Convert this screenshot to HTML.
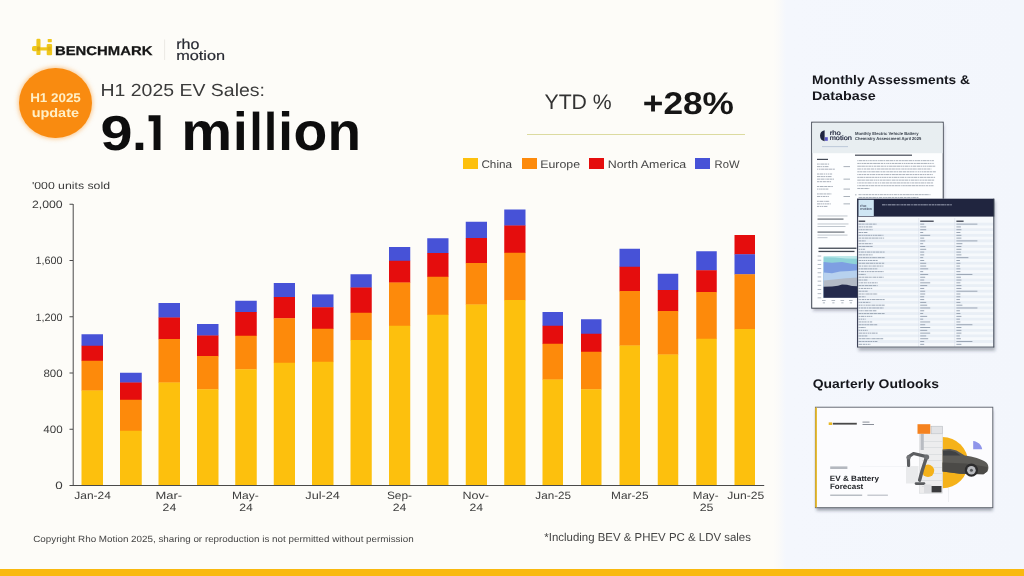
<!DOCTYPE html>
<html><head><meta charset="utf-8"><title>H1 2025 EV Sales</title>
<style>
html,body{margin:0;padding:0;}
body{width:1024px;height:576px;overflow:hidden;position:relative;background:#fdfcf8;
font-family:"Liberation Sans",sans-serif;}
.t{position:absolute;white-space:nowrap;line-height:1;transform-origin:0 0;display:block;}
.r{position:absolute;}
svg{position:absolute;left:0;top:0;}
</style></head><body>
<div class="r" style="left:0;top:0;width:1024px;height:576px;background:linear-gradient(90deg,#fdfcf8 0px,#fdfcf8 773px,#fafaf9 779px,#f4f7fd 786px,#f3f6fc 1024px);"></div>
<div class="r" style="left:0.00px;top:568.75px;width:1024.00px;height:7.25px;background:#f9b90f;"></div>
<svg width="1024" height="576" viewBox="0 0 1024 576" shape-rendering="geometricPrecision">
<rect x="81.50" y="334.25" width="21.50" height="11.80" fill="#4752d7"/>
<rect x="81.50" y="345.75" width="21.50" height="15.30" fill="#e50d0d"/>
<rect x="81.50" y="360.75" width="21.50" height="30.05" fill="#fd8a0b"/>
<rect x="81.50" y="390.50" width="21.50" height="95.00" fill="#fdc00d"/>
<rect x="120.00" y="372.75" width="21.75" height="10.05" fill="#4752d7"/>
<rect x="120.00" y="382.50" width="21.75" height="17.55" fill="#e50d0d"/>
<rect x="120.00" y="399.75" width="21.75" height="31.30" fill="#fd8a0b"/>
<rect x="120.00" y="430.75" width="21.75" height="54.75" fill="#fdc00d"/>
<rect x="158.50" y="303.00" width="21.50" height="14.80" fill="#4752d7"/>
<rect x="158.50" y="317.50" width="21.50" height="21.80" fill="#e50d0d"/>
<rect x="158.50" y="339.00" width="21.50" height="43.80" fill="#fd8a0b"/>
<rect x="158.50" y="382.50" width="21.50" height="103.00" fill="#fdc00d"/>
<rect x="197.00" y="324.00" width="21.50" height="11.80" fill="#4752d7"/>
<rect x="197.00" y="335.50" width="21.50" height="20.80" fill="#e50d0d"/>
<rect x="197.00" y="356.00" width="21.50" height="33.55" fill="#fd8a0b"/>
<rect x="197.00" y="389.25" width="21.50" height="96.25" fill="#fdc00d"/>
<rect x="235.25" y="300.75" width="21.50" height="11.55" fill="#4752d7"/>
<rect x="235.25" y="312.00" width="21.50" height="24.05" fill="#e50d0d"/>
<rect x="235.25" y="335.75" width="21.50" height="33.80" fill="#fd8a0b"/>
<rect x="235.25" y="369.25" width="21.50" height="116.25" fill="#fdc00d"/>
<rect x="273.75" y="283.00" width="21.25" height="14.30" fill="#4752d7"/>
<rect x="273.75" y="297.00" width="21.25" height="21.55" fill="#e50d0d"/>
<rect x="273.75" y="318.25" width="21.25" height="44.80" fill="#fd8a0b"/>
<rect x="273.75" y="362.75" width="21.25" height="122.75" fill="#fdc00d"/>
<rect x="312.00" y="294.40" width="21.50" height="13.15" fill="#4752d7"/>
<rect x="312.00" y="307.25" width="21.50" height="21.80" fill="#e50d0d"/>
<rect x="312.00" y="328.75" width="21.50" height="33.30" fill="#fd8a0b"/>
<rect x="312.00" y="361.75" width="21.50" height="123.75" fill="#fdc00d"/>
<rect x="350.50" y="274.25" width="21.25" height="13.55" fill="#4752d7"/>
<rect x="350.50" y="287.50" width="21.25" height="25.55" fill="#e50d0d"/>
<rect x="350.50" y="312.75" width="21.25" height="27.55" fill="#fd8a0b"/>
<rect x="350.50" y="340.00" width="21.25" height="145.50" fill="#fdc00d"/>
<rect x="389.00" y="247.00" width="21.25" height="14.05" fill="#4752d7"/>
<rect x="389.00" y="260.75" width="21.25" height="22.05" fill="#e50d0d"/>
<rect x="389.00" y="282.50" width="21.25" height="43.55" fill="#fd8a0b"/>
<rect x="389.00" y="325.75" width="21.25" height="159.75" fill="#fdc00d"/>
<rect x="427.25" y="238.25" width="21.25" height="15.05" fill="#4752d7"/>
<rect x="427.25" y="253.00" width="21.25" height="24.05" fill="#e50d0d"/>
<rect x="427.25" y="276.75" width="21.25" height="38.30" fill="#fd8a0b"/>
<rect x="427.25" y="314.75" width="21.25" height="170.75" fill="#fdc00d"/>
<rect x="465.75" y="221.75" width="21.25" height="16.55" fill="#4752d7"/>
<rect x="465.75" y="238.00" width="21.25" height="25.30" fill="#e50d0d"/>
<rect x="465.75" y="263.00" width="21.25" height="41.80" fill="#fd8a0b"/>
<rect x="465.75" y="304.50" width="21.25" height="181.00" fill="#fdc00d"/>
<rect x="504.25" y="209.50" width="21.25" height="16.30" fill="#4752d7"/>
<rect x="504.25" y="225.50" width="21.25" height="27.55" fill="#e50d0d"/>
<rect x="504.25" y="252.75" width="21.25" height="47.55" fill="#fd8a0b"/>
<rect x="504.25" y="300.00" width="21.25" height="185.50" fill="#fdc00d"/>
<rect x="542.50" y="312.00" width="20.50" height="14.05" fill="#4752d7"/>
<rect x="542.50" y="325.75" width="20.50" height="18.30" fill="#e50d0d"/>
<rect x="542.50" y="343.75" width="20.50" height="36.05" fill="#fd8a0b"/>
<rect x="542.50" y="379.50" width="20.50" height="106.00" fill="#fdc00d"/>
<rect x="581.00" y="319.25" width="20.50" height="14.80" fill="#4752d7"/>
<rect x="581.00" y="333.75" width="20.50" height="18.30" fill="#e50d0d"/>
<rect x="581.00" y="351.75" width="20.50" height="37.80" fill="#fd8a0b"/>
<rect x="581.00" y="389.25" width="20.50" height="96.25" fill="#fdc00d"/>
<rect x="619.50" y="248.75" width="20.50" height="18.30" fill="#4752d7"/>
<rect x="619.50" y="266.75" width="20.50" height="24.55" fill="#e50d0d"/>
<rect x="619.50" y="291.00" width="20.50" height="54.80" fill="#fd8a0b"/>
<rect x="619.50" y="345.50" width="20.50" height="140.00" fill="#fdc00d"/>
<rect x="657.75" y="273.75" width="20.50" height="16.55" fill="#4752d7"/>
<rect x="657.75" y="290.00" width="20.50" height="21.30" fill="#e50d0d"/>
<rect x="657.75" y="311.00" width="20.50" height="43.80" fill="#fd8a0b"/>
<rect x="657.75" y="354.50" width="20.50" height="131.00" fill="#fdc00d"/>
<rect x="696.25" y="251.25" width="20.50" height="19.30" fill="#4752d7"/>
<rect x="696.25" y="270.25" width="20.50" height="22.05" fill="#e50d0d"/>
<rect x="696.25" y="292.00" width="20.50" height="47.05" fill="#fd8a0b"/>
<rect x="696.25" y="338.75" width="20.50" height="146.75" fill="#fdc00d"/>
<rect x="734.50" y="235.00" width="20.50" height="19.55" fill="#e50d0d"/>
<rect x="734.50" y="254.25" width="20.50" height="20.30" fill="#4752d7"/>
<rect x="734.50" y="274.25" width="20.50" height="55.05" fill="#fd8a0b"/>
<rect x="734.50" y="329.00" width="20.50" height="156.50" fill="#fdc00d"/>
<rect x="72.7" y="204" width="1" height="282" fill="#4a4a4a"/>
<rect x="72.7" y="485" width="691.5" height="1" fill="#4a4a4a"/>
<rect x="69.5" y="203.75" width="3.5" height="1" fill="#4a4a4a"/>
<rect x="69.5" y="260.00" width="3.5" height="1" fill="#4a4a4a"/>
<rect x="69.5" y="316.25" width="3.5" height="1" fill="#4a4a4a"/>
<rect x="69.5" y="372.50" width="3.5" height="1" fill="#4a4a4a"/>
<rect x="69.5" y="428.75" width="3.5" height="1" fill="#4a4a4a"/>
<rect x="69.5" y="485.00" width="3.5" height="1" fill="#4a4a4a"/>
</svg>
<svg width="1024" height="576" viewBox="0 0 1024 576">
<g fill="#efc71c">
<rect x="36.4" y="38.7" width="4.1" height="16.4" rx="1.2"/>
<rect x="32.0" y="46.0" width="6.5" height="5.3" rx="1.8"/>
<rect x="40.0" y="47.3" width="7.2" height="3.2"/>
<rect x="47.7" y="39.0" width="4.1" height="3.2" rx="0.6"/>
<rect x="46.7" y="44.0" width="5.4" height="11.3" rx="1.1"/>
<rect x="36.9" y="46.6" width="3.2" height="4.2" rx="1.2" fill="#d9a913"/>
<rect x="47.4" y="46.8" width="3.6" height="4.0" rx="1.0" fill="#e3b417"/>
</g>
<rect x="164.1" y="39.5" width="1" height="20.5" fill="#ebe9e4"/>
</svg>
<div class="r" style="left:19px;top:68px;width:72.7px;height:70.4px;border-radius:50%;background:#f98b10;box-shadow:0 0 4px 1px rgba(250,150,40,0.5);"></div>
<div class="r" style="left:527.00px;top:134.00px;width:217.50px;height:1.00px;background:#dcdba0;"></div>
<div class="r" style="left:462.50px;top:158.25px;width:15.00px;height:11.00px;background:#fdc00d;"></div>
<div class="r" style="left:521.75px;top:158.25px;width:15.00px;height:11.00px;background:#fd8a0b;"></div>
<div class="r" style="left:589.00px;top:158.25px;width:15.00px;height:11.00px;background:#e50d0d;"></div>
<div class="r" style="left:695.25px;top:158.25px;width:15.00px;height:11.00px;background:#4752d7;"></div>
<svg width="1024" height="576" viewBox="0 0 1024 576">
<defs><filter id="sh" x="-10%" y="-10%" width="120%" height="125%"><feGaussianBlur stdDeviation="1.6"/></filter><filter id="bl"><feGaussianBlur stdDeviation="0.35"/></filter><clipPath id="c1"><rect x="812" y="122.4" width="131" height="185.6"/></clipPath><clipPath id="c3"><rect x="815.4" y="407.2" width="177.4" height="100.5"/></clipPath></defs>
<rect x="813.00" y="125.00" width="131.00" height="186.00" fill="rgba(40,50,70,0.30)" filter="url(#sh)"/>
<rect x="811.70" y="122.20" width="131.50" height="186.00" fill="#fdfeff" stroke="#3f4550" stroke-width="1"/>
<rect x="812.30" y="122.80" width="130.30" height="30.40" fill="#e8eef1" />
<path d="M824.6 130.2 A5.6 5.6 0 0 0 824.6 141.2 Z" fill="#1f2440"/>
<rect x="824.90" y="137.20" width="2.90" height="3.60" fill="#5a56c8" />
<g filter="url(#bl)">
<rect x="822.00" y="146.20" width="26.00" height="0.90" fill="#b7c6d6" />
<rect x="855.00" y="154.60" width="57.00" height="1.20" fill="#444b56" />
<rect x="817.00" y="158.80" width="11.00" height="1.20" fill="#444b56" />
<line x1="817.00" y1="164.07" x2="829.59" y2="164.07" stroke="#a5adb7" stroke-width="0.95" stroke-dasharray="1.8 0.5 1.2 0.4 3.6 0.4 2.4 0.6 1.2 0.6 1.8 0.4 1.2 0.5 3.0 0.4"/>
<line x1="817.00" y1="166.62" x2="828.93" y2="166.62" stroke="#a5adb7" stroke-width="0.95" stroke-dasharray="3.6 0.5 1.2 0.6 1.2 0.4 3.6 0.4 3.6 0.6 3.0 0.4"/>
<rect x="843.50" y="166.15" width="6.50" height="0.95" fill="#a5adb7" />
<line x1="817.00" y1="169.18" x2="834.81" y2="169.18" stroke="#a5adb7" stroke-width="0.95" stroke-dasharray="1.2 0.6 1.8 0.5 3.0 0.4 3.6 0.4 3.6 0.5 3.6 0.6 1.8 0.4 3.6 0.6"/>
<line x1="817.00" y1="174.03" x2="832.11" y2="174.03" stroke="#a5adb7" stroke-width="0.95" stroke-dasharray="2.4 0.4 3.6 0.6 1.2 0.6 1.2 0.6 1.8 0.5 3.6 0.5 2.4 0.5"/>
<line x1="817.00" y1="176.58" x2="831.68" y2="176.58" stroke="#a5adb7" stroke-width="0.95" stroke-dasharray="3.0 0.5 2.4 0.4 1.8 0.6 1.8 0.4 3.6 0.5 3.6 0.5"/>
<line x1="817.00" y1="179.13" x2="834.00" y2="179.13" stroke="#a5adb7" stroke-width="0.95" stroke-dasharray="3.0 0.5 3.6 0.4 1.2 0.6 3.0 0.4 2.4 0.4 3.0 0.5 1.2 0.6 1.2 0.6"/>
<rect x="843.50" y="178.65" width="6.50" height="0.95" fill="#a5adb7" />
<line x1="817.00" y1="181.68" x2="831.58" y2="181.68" stroke="#a5adb7" stroke-width="0.95" stroke-dasharray="2.4 0.5 2.4 0.6 3.0 0.6 3.0 0.4 1.2 0.5 3.0 0.6 1.2 0.4"/>
<line x1="817.00" y1="186.53" x2="832.85" y2="186.53" stroke="#a5adb7" stroke-width="0.95" stroke-dasharray="2.4 0.6 3.6 0.6 3.0 0.5 3.0 0.6 2.4 0.4 3.0 0.5"/>
<line x1="817.00" y1="189.08" x2="828.34" y2="189.08" stroke="#a5adb7" stroke-width="0.95" stroke-dasharray="1.2 0.5 1.2 0.4 2.4 0.4 1.8 0.5 3.0 0.5 1.2 0.4 3.0 0.5"/>
<rect x="843.50" y="188.60" width="6.50" height="0.95" fill="#a5adb7" />
<line x1="817.00" y1="193.93" x2="831.40" y2="193.93" stroke="#a5adb7" stroke-width="0.95" stroke-dasharray="1.8 0.5 3.6 0.5 3.0 0.5 3.0 0.4 1.8 0.4 1.8 0.4 1.8 0.6"/>
<line x1="817.00" y1="196.48" x2="828.87" y2="196.48" stroke="#a5adb7" stroke-width="0.95" stroke-dasharray="3.0 0.6 1.8 0.5 2.4 0.4 1.8 0.5 3.6 0.5 3.6 0.6"/>
<rect x="843.50" y="196.00" width="6.50" height="0.95" fill="#a5adb7" />
<line x1="817.00" y1="201.33" x2="829.55" y2="201.33" stroke="#a5adb7" stroke-width="0.95" stroke-dasharray="1.8 0.6 3.6 0.6 1.2 0.5 3.6 0.5 3.0 0.5 3.0 0.4"/>
<line x1="817.00" y1="203.88" x2="830.85" y2="203.88" stroke="#a5adb7" stroke-width="0.95" stroke-dasharray="3.0 0.4 1.8 0.4 1.8 0.5 1.8 0.4 2.4 0.6 1.2 0.4 1.2 0.6 1.8 0.6"/>
<rect x="843.50" y="203.40" width="6.50" height="0.95" fill="#a5adb7" />
<line x1="817.00" y1="206.43" x2="827.81" y2="206.43" stroke="#a5adb7" stroke-width="0.95" stroke-dasharray="2.4 0.6 1.2 0.4 1.8 0.6 3.0 0.4 2.4 0.5 3.6 0.5"/>
<rect x="817.50" y="215.50" width="30.00" height="0.95" fill="#bcc3cb" />
<rect x="817.50" y="218.60" width="26.00" height="0.95" fill="#444b56" />
<rect x="817.50" y="223.50" width="31.00" height="0.95" fill="#bcc3cb" />
<rect x="817.50" y="226.00" width="28.00" height="0.95" fill="#bcc3cb" />
<rect x="817.50" y="231.60" width="27.00" height="0.95" fill="#444b56" />
<rect x="817.50" y="234.60" width="30.00" height="0.95" fill="#bcc3cb" />
<rect x="817.50" y="237.20" width="10.00" height="0.95" fill="#bcc3cb" />
<rect x="818.50" y="247.60" width="38.00" height="1.30" fill="#444b56" />
<rect x="818.50" y="250.80" width="36.00" height="1.30" fill="#444b56" />
<line x1="857.30" y1="160.67" x2="933.93" y2="160.67" stroke="#a5adb7" stroke-width="0.95" stroke-dasharray="1.2 0.5 3.0 0.5 3.0 0.5 1.2 0.4 1.2 0.6 2.4 0.6 2.4 0.5 1.8 0.6 1.2 0.4 3.6 0.5 1.8 0.6 3.6 0.4 3.6 0.5 1.2 0.6 2.4 0.6 2.4 0.4 2.4 0.4 3.6 0.6 3.6 0.5 1.8 0.6 1.8 0.4 3.0 0.6 1.8 0.4 3.6 0.5 2.4 0.6 1.2 0.4 2.4 0.5 2.4 0.4 3.6 0.5"/>
<line x1="857.30" y1="163.45" x2="934.06" y2="163.45" stroke="#a5adb7" stroke-width="0.95" stroke-dasharray="2.4 0.5 1.2 0.4 1.2 0.4 3.0 0.4 2.4 0.4 3.0 0.6 3.6 0.4 3.0 0.6 2.4 0.6 1.2 0.6 1.2 0.5 1.8 0.5 1.8 0.5 2.4 0.4 3.0 0.5 3.0 0.6 1.2 0.6 1.8 0.4 1.8 0.4 1.8 0.6 3.0 0.6 1.8 0.6 3.6 0.5 2.4 0.4 3.6 0.6 1.8 0.4 1.2 0.6 1.2 0.6 1.8 0.5 1.8 0.4 1.2 0.5"/>
<line x1="857.30" y1="166.23" x2="935.24" y2="166.23" stroke="#a5adb7" stroke-width="0.95" stroke-dasharray="3.6 0.4 3.6 0.5 2.4 0.6 3.0 0.4 1.2 0.6 2.4 0.5 3.6 0.6 3.0 0.6 1.8 0.6 1.8 0.6 3.6 0.4 3.0 0.4 3.6 0.4 1.8 0.4 1.8 0.5 3.6 0.6 1.2 0.6 1.2 0.5 3.6 0.6 3.6 0.5 1.2 0.6 1.2 0.4 1.8 0.5 1.2 0.4 3.6 0.5 3.6 0.4 1.2 0.5 2.4 0.6"/>
<line x1="857.30" y1="169.01" x2="931.43" y2="169.01" stroke="#a5adb7" stroke-width="0.95" stroke-dasharray="3.6 0.6 1.8 0.6 2.4 0.5 3.6 0.6 3.0 0.6 1.8 0.6 3.6 0.5 3.6 0.4 3.0 0.4 3.0 0.4 3.0 0.5 2.4 0.4 1.8 0.5 1.2 0.4 2.4 0.4 1.8 0.6 2.4 0.4 2.4 0.4 3.0 0.4 1.2 0.5 3.0 0.4 1.8 0.4 3.0 0.6 3.0 0.5 3.0 0.4 2.4 0.5"/>
<line x1="857.30" y1="171.79" x2="935.84" y2="171.79" stroke="#a5adb7" stroke-width="0.95" stroke-dasharray="2.4 0.4 2.4 0.6 3.0 0.5 1.2 0.5 2.4 0.6 3.6 0.5 3.6 0.4 1.2 0.4 1.2 0.4 2.4 0.5 1.2 0.4 2.4 0.4 3.0 0.6 2.4 0.5 1.8 0.6 3.6 0.6 3.0 0.6 2.4 0.4 2.4 0.4 1.8 0.5 1.2 0.5 1.2 0.6 1.2 0.5 1.2 0.6 1.8 0.4 2.4 0.4 3.0 0.4 2.4 0.6 3.0 0.5 3.6 0.4 1.2 0.6"/>
<line x1="857.30" y1="174.57" x2="932.75" y2="174.57" stroke="#a5adb7" stroke-width="0.95" stroke-dasharray="1.2 0.4 2.4 0.4 1.8 0.4 2.4 0.6 2.4 0.6 1.8 0.5 3.0 0.6 1.8 0.5 2.4 0.4 2.4 0.4 1.2 0.4 3.6 0.6 1.8 0.6 3.0 0.4 3.0 0.4 3.0 0.6 3.0 0.6 3.0 0.6 2.4 0.6 1.8 0.4 2.4 0.4 1.8 0.5 2.4 0.4 1.8 0.4 1.2 0.6 2.4 0.5 1.8 0.4 1.2 0.6 3.0 0.6 2.4 0.6"/>
<line x1="857.30" y1="177.35" x2="935.09" y2="177.35" stroke="#a5adb7" stroke-width="0.95" stroke-dasharray="2.4 0.4 3.0 0.4 1.8 0.5 3.0 0.4 2.4 0.5 2.4 0.6 2.4 0.4 1.2 0.5 1.8 0.5 1.8 0.4 2.4 0.5 1.2 0.5 2.4 0.6 1.8 0.4 3.6 0.4 1.2 0.5 1.2 0.4 3.0 0.6 1.2 0.5 1.2 0.5 2.4 0.6 1.8 0.4 3.6 0.6 1.8 0.6 3.6 0.5 2.4 0.6 3.0 0.4 2.4 0.6 3.6 0.6 1.8 0.4 3.6 0.6"/>
<line x1="857.30" y1="180.13" x2="934.15" y2="180.13" stroke="#a5adb7" stroke-width="0.95" stroke-dasharray="3.6 0.4 3.6 0.6 3.6 0.4 3.6 0.6 1.8 0.4 1.2 0.4 1.8 0.6 2.4 0.4 3.0 0.5 3.6 0.4 1.2 0.6 3.6 0.6 1.8 0.5 2.4 0.4 3.0 0.4 3.6 0.6 1.2 0.6 3.6 0.4 3.0 0.5 1.2 0.5 1.8 0.6 1.8 0.4 3.0 0.5 3.0 0.4 3.0 0.6 2.4 0.4 3.6 0.6"/>
<line x1="857.30" y1="182.91" x2="933.09" y2="182.91" stroke="#a5adb7" stroke-width="0.95" stroke-dasharray="1.2 0.6 1.8 0.5 2.4 0.6 2.4 0.6 3.6 0.4 1.2 0.5 1.2 0.5 2.4 0.6 1.2 0.6 1.8 0.6 3.0 0.5 3.6 0.5 3.0 0.5 3.0 0.4 3.6 0.4 2.4 0.4 3.0 0.4 2.4 0.5 1.2 0.6 3.0 0.5 3.0 0.4 1.8 0.4 3.6 0.4 1.8 0.6 3.6 0.5 2.4 0.4 3.6 0.6"/>
<line x1="857.30" y1="185.69" x2="933.76" y2="185.69" stroke="#a5adb7" stroke-width="0.95" stroke-dasharray="1.2 0.6 2.4 0.4 3.0 0.5 3.0 0.4 1.8 0.4 3.0 0.6 3.0 0.5 2.4 0.6 1.8 0.5 2.4 0.5 2.4 0.4 2.4 0.4 2.4 0.5 3.0 0.4 1.8 0.6 1.2 0.6 2.4 0.5 2.4 0.4 3.0 0.5 3.6 0.4 2.4 0.5 2.4 0.4 2.4 0.4 1.2 0.6 2.4 0.6 1.8 0.4 2.4 0.5 3.6 0.5 1.8 0.5"/>
<line x1="857.30" y1="188.47" x2="869.37" y2="188.47" stroke="#a5adb7" stroke-width="0.95" stroke-dasharray="3.0 0.4 3.0 0.6 3.6 0.4 1.2 0.4 3.0 0.5 3.6 0.4"/>
<rect x="855.20" y="194.20" width="1.20" height="1.20" fill="#a5adb7" />
<line x1="858.50" y1="194.67" x2="930.50" y2="194.67" stroke="#a5adb7" stroke-width="0.95" stroke-dasharray="2.4 0.5 1.2 0.6 1.8 0.4 3.0 0.5 2.4 0.5 2.4 0.5 2.4 0.5 1.8 0.5 3.0 0.6 3.0 0.4 1.8 0.6 1.8 0.4 1.8 0.6 3.0 0.6 1.8 0.5 2.4 0.5 3.0 0.4 3.6 0.4 1.8 0.4 1.8 0.5 3.6 0.4 2.4 0.4 2.4 0.5 3.6 0.4 1.2 0.6 3.0 0.5 3.0 0.6"/>
<line x1="858.50" y1="197.47" x2="918.50" y2="197.47" stroke="#a5adb7" stroke-width="0.95" stroke-dasharray="3.6 0.4 3.0 0.5 2.4 0.4 3.0 0.5 3.6 0.5 1.8 0.6 3.6 0.6 1.8 0.4 2.4 0.4 3.0 0.5 3.0 0.5 2.4 0.4 1.8 0.4 3.0 0.6 3.0 0.6 3.0 0.4 1.2 0.5 3.6 0.5 3.0 0.4 1.2 0.4 1.8 0.4"/>
</g>
<rect x="823.60" y="256.00" width="34.40" height="41.80" fill="#bfe9ea" />
<path d="M823.6 257.2 L835 257.6 L846 258.4 L858 258.8 L858 297.8 L823.6 297.8Z" fill="#8fd3d8"/>
<path d="M823.6 262.0 L832 262.8 L842 262.0 L850 263.4 L858 264.4 L858 297.8 L823.6 297.8Z" fill="#7e9fe2"/>
<path d="M823.6 272.6 L832 273.2 L840 271.6 L850 271.0 L858 270.2 L858 297.8 L823.6 297.8Z" fill="#b7d1ee"/>
<path d="M823.6 280.4 L834 279.6 L846 278.2 L858 277.4 L858 297.8 L823.6 297.8Z" fill="#b3bac6"/>
<path d="M823.6 286.8 L832 286.6 L838 285.8 L842 284.6 L847 284.8 L852 286.0 L858 286.2 L858 297.8 L823.6 297.8Z" fill="#242a4c"/>
<g filter="url(#bl)">
<rect x="817.60" y="255.60" width="3.60" height="0.90" fill="#aab2bc" />
<rect x="817.60" y="259.78" width="3.60" height="0.90" fill="#aab2bc" />
<rect x="817.60" y="263.96" width="3.60" height="0.90" fill="#aab2bc" />
<rect x="817.60" y="268.14" width="3.60" height="0.90" fill="#aab2bc" />
<rect x="817.60" y="272.32" width="3.60" height="0.90" fill="#aab2bc" />
<rect x="817.60" y="276.50" width="3.60" height="0.90" fill="#aab2bc" />
<rect x="817.60" y="280.68" width="3.60" height="0.90" fill="#aab2bc" />
<rect x="817.60" y="284.86" width="3.60" height="0.90" fill="#aab2bc" />
<rect x="817.60" y="289.04" width="3.60" height="0.90" fill="#aab2bc" />
<rect x="817.60" y="293.22" width="3.60" height="0.90" fill="#aab2bc" />
<rect x="817.60" y="297.40" width="3.60" height="0.90" fill="#aab2bc" />
<rect x="822.00" y="300.00" width="3.60" height="0.90" fill="#aab2bc" />
<rect x="822.80" y="302.40" width="2.20" height="0.90" fill="#aab2bc" />
<rect x="831.50" y="300.00" width="3.60" height="0.90" fill="#aab2bc" />
<rect x="832.30" y="302.40" width="2.20" height="0.90" fill="#aab2bc" />
<rect x="840.50" y="300.00" width="3.60" height="0.90" fill="#aab2bc" />
<rect x="841.30" y="302.40" width="2.20" height="0.90" fill="#aab2bc" />
<rect x="849.00" y="300.00" width="3.60" height="0.90" fill="#aab2bc" />
<rect x="849.80" y="302.40" width="2.20" height="0.90" fill="#aab2bc" />
</g>
<rect x="858.40" y="201.20" width="136.80" height="149.70" fill="rgba(40,50,70,0.33)" filter="url(#sh)"/>
<rect x="857.40" y="198.70" width="136.80" height="148.70" fill="#f6f9fc" />
<rect x="857.40" y="198.70" width="136.80" height="17.90" fill="#20253f" />
<rect x="858.40" y="199.80" width="15.40" height="16.20" fill="#cfe6f4" />
<line x1="882.00" y1="204.83" x2="952.00" y2="204.83" stroke="#b4b9cb" stroke-width="0.85" stroke-dasharray="3.6 0.6 1.2 0.6 3.0 0.4 3.6 0.4 1.2 0.4 1.8 0.6 1.2 0.6 2.4 0.4 2.4 0.6 3.0 0.6 1.2 0.4 1.2 0.5 3.6 0.6 1.8 0.5 2.4 0.4 3.6 0.4 1.2 0.6 2.4 0.5 2.4 0.5 1.8 0.5 3.6 0.4 3.6 0.4 1.2 0.5 2.4 0.4 1.2 0.4 3.0 0.6 3.0 0.4"/>
<g filter="url(#bl)">
<rect x="858.00" y="222.70" width="135.40" height="2.79" fill="#e9eff6" />
<rect x="858.00" y="228.29" width="135.40" height="2.79" fill="#e9eff6" />
<rect x="858.00" y="233.88" width="135.40" height="2.79" fill="#e9eff6" />
<rect x="858.00" y="239.47" width="135.40" height="2.79" fill="#e9eff6" />
<rect x="858.00" y="245.06" width="135.40" height="2.79" fill="#e9eff6" />
<rect x="858.00" y="250.65" width="135.40" height="2.79" fill="#e9eff6" />
<rect x="858.00" y="256.24" width="135.40" height="2.79" fill="#e9eff6" />
<rect x="858.00" y="261.83" width="135.40" height="2.79" fill="#e9eff6" />
<rect x="858.00" y="267.42" width="135.40" height="2.79" fill="#e9eff6" />
<rect x="858.00" y="273.01" width="135.40" height="2.79" fill="#e9eff6" />
<rect x="858.00" y="278.60" width="135.40" height="2.79" fill="#e9eff6" />
<rect x="858.00" y="284.19" width="135.40" height="2.79" fill="#e9eff6" />
<rect x="858.00" y="289.78" width="135.40" height="2.79" fill="#e9eff6" />
<rect x="858.00" y="295.37" width="135.40" height="2.79" fill="#e9eff6" />
<rect x="858.00" y="300.96" width="135.40" height="2.79" fill="#e9eff6" />
<rect x="858.00" y="306.55" width="135.40" height="2.79" fill="#e9eff6" />
<rect x="858.00" y="312.14" width="135.40" height="2.79" fill="#e9eff6" />
<rect x="858.00" y="317.73" width="135.40" height="2.79" fill="#e9eff6" />
<rect x="858.00" y="323.32" width="135.40" height="2.79" fill="#e9eff6" />
<rect x="858.00" y="328.91" width="135.40" height="2.79" fill="#e9eff6" />
<rect x="858.00" y="334.50" width="135.40" height="2.79" fill="#e9eff6" />
<rect x="858.00" y="340.09" width="135.40" height="2.79" fill="#e9eff6" />
<rect x="858.60" y="220.60" width="6.60" height="1.20" fill="#2f3644" />
<rect x="920.20" y="220.60" width="13.50" height="1.20" fill="#2f3644" />
<rect x="956.40" y="220.60" width="7.20" height="1.20" fill="#2f3644" />
<line x1="858.60" y1="224.12" x2="876.60" y2="224.12" stroke="#97a2b1" stroke-width="0.95" stroke-dasharray="3.0 0.5 1.8 0.5 1.2 0.6 2.4 0.6 3.0 0.5 3.0 0.4 1.2 0.5 3.6 0.4"/>
<rect x="920.20" y="223.65" width="4.00" height="0.95" fill="#97a2b1" />
<rect x="956.40" y="223.65" width="21.00" height="0.95" fill="#97a2b1" />
<line x1="858.60" y1="226.92" x2="872.60" y2="226.92" stroke="#97a2b1" stroke-width="0.95" stroke-dasharray="2.4 0.4 1.8 0.5 1.8 0.5 2.4 0.4 3.6 0.5 3.6 0.4"/>
<rect x="920.20" y="226.44" width="6.00" height="0.95" fill="#97a2b1" />
<rect x="956.40" y="226.44" width="4.50" height="0.95" fill="#97a2b1" />
<line x1="858.60" y1="229.72" x2="872.60" y2="229.72" stroke="#97a2b1" stroke-width="0.95" stroke-dasharray="1.2 0.6 1.8 0.5 1.2 0.4 1.2 0.6 1.8 0.5 1.2 0.6 1.2 0.4 3.0 0.5 2.4 0.6"/>
<rect x="920.20" y="229.24" width="6.00" height="0.95" fill="#97a2b1" />
<rect x="956.40" y="229.24" width="5.00" height="0.95" fill="#97a2b1" />
<line x1="858.60" y1="232.51" x2="867.60" y2="232.51" stroke="#97a2b1" stroke-width="0.95" stroke-dasharray="2.4 0.4 1.8 0.6 3.6 0.6 3.0 0.4 2.4 0.6"/>
<rect x="920.20" y="232.03" width="3.00" height="0.95" fill="#97a2b1" />
<rect x="956.40" y="232.03" width="4.00" height="0.95" fill="#97a2b1" />
<line x1="858.60" y1="235.31" x2="883.60" y2="235.31" stroke="#97a2b1" stroke-width="0.95" stroke-dasharray="2.4 0.5 1.8 0.4 1.2 0.4 2.4 0.4 2.4 0.5 1.2 0.6 1.8 0.5 2.4 0.5 3.0 0.4 1.2 0.6 3.0 0.4 2.4 0.6"/>
<rect x="920.20" y="234.83" width="10.00" height="0.95" fill="#97a2b1" />
<rect x="956.40" y="234.83" width="5.00" height="0.95" fill="#97a2b1" />
<line x1="858.60" y1="238.10" x2="884.60" y2="238.10" stroke="#97a2b1" stroke-width="0.95" stroke-dasharray="2.4 0.6 3.0 0.4 3.0 0.4 3.0 0.4 3.0 0.4 3.0 0.4 1.2 0.5 1.8 0.6 1.2 0.6 2.4 0.5 2.4 0.5"/>
<rect x="920.20" y="237.62" width="4.00" height="0.95" fill="#97a2b1" />
<rect x="956.40" y="237.62" width="5.00" height="0.95" fill="#97a2b1" />
<line x1="858.60" y1="240.90" x2="865.60" y2="240.90" stroke="#97a2b1" stroke-width="0.95" stroke-dasharray="2.4 0.5 2.4 0.4 3.6 0.6 1.2 0.4"/>
<rect x="920.20" y="240.42" width="5.00" height="0.95" fill="#97a2b1" />
<rect x="956.40" y="240.42" width="21.00" height="0.95" fill="#97a2b1" />
<line x1="858.60" y1="243.69" x2="872.60" y2="243.69" stroke="#97a2b1" stroke-width="0.95" stroke-dasharray="3.0 0.5 2.4 0.5 3.0 0.4 3.0 0.4 1.2 0.6 2.4 0.6 1.8 0.6"/>
<rect x="920.20" y="243.22" width="3.00" height="0.95" fill="#97a2b1" />
<rect x="956.40" y="243.22" width="6.00" height="0.95" fill="#97a2b1" />
<line x1="858.60" y1="246.48" x2="872.60" y2="246.48" stroke="#97a2b1" stroke-width="0.95" stroke-dasharray="3.0 0.5 3.6 0.4 3.6 0.4 3.0 0.4 1.8 0.5 1.2 0.6"/>
<rect x="920.20" y="246.01" width="5.00" height="0.95" fill="#97a2b1" />
<rect x="956.40" y="246.01" width="5.00" height="0.95" fill="#97a2b1" />
<line x1="858.60" y1="249.28" x2="865.60" y2="249.28" stroke="#97a2b1" stroke-width="0.95" stroke-dasharray="1.8 0.5 1.2 0.4 2.4 0.6 1.2 0.4 1.2 0.5 3.0 0.6"/>
<rect x="920.20" y="248.81" width="6.00" height="0.95" fill="#97a2b1" />
<rect x="956.40" y="248.81" width="5.00" height="0.95" fill="#97a2b1" />
<line x1="858.60" y1="252.07" x2="884.60" y2="252.07" stroke="#97a2b1" stroke-width="0.95" stroke-dasharray="1.8 0.5 3.0 0.6 1.8 0.6 3.6 0.6 1.2 0.5 2.4 0.5 3.6 0.5 2.4 0.5 2.4 0.4 3.0 0.4 1.8 0.4"/>
<rect x="920.20" y="251.60" width="4.00" height="0.95" fill="#97a2b1" />
<rect x="956.40" y="251.60" width="4.50" height="0.95" fill="#97a2b1" />
<line x1="858.60" y1="254.87" x2="872.60" y2="254.87" stroke="#97a2b1" stroke-width="0.95" stroke-dasharray="3.6 0.4 2.4 0.4 3.0 0.5 1.8 0.6 3.6 0.4 1.2 0.6"/>
<rect x="920.20" y="254.40" width="4.00" height="0.95" fill="#97a2b1" />
<rect x="956.40" y="254.40" width="5.00" height="0.95" fill="#97a2b1" />
<line x1="858.60" y1="257.67" x2="884.60" y2="257.67" stroke="#97a2b1" stroke-width="0.95" stroke-dasharray="1.2 0.5 1.8 0.5 2.4 0.4 2.4 0.4 1.2 0.4 1.8 0.6 3.6 0.4 1.2 0.5 3.6 0.4 3.0 0.6 2.4 0.6 1.2 0.4"/>
<rect x="920.20" y="257.19" width="3.00" height="0.95" fill="#97a2b1" />
<rect x="956.40" y="257.19" width="12.00" height="0.95" fill="#97a2b1" />
<line x1="858.60" y1="260.46" x2="877.60" y2="260.46" stroke="#97a2b1" stroke-width="0.95" stroke-dasharray="2.4 0.5 1.8 0.4 1.8 0.5 1.2 0.6 1.8 0.4 2.4 0.5 2.4 0.4 3.6 0.5 1.2 0.4 1.2 0.5"/>
<rect x="920.20" y="259.99" width="4.00" height="0.95" fill="#97a2b1" />
<rect x="956.40" y="259.99" width="3.50" height="0.95" fill="#97a2b1" />
<line x1="858.60" y1="263.25" x2="884.60" y2="263.25" stroke="#97a2b1" stroke-width="0.95" stroke-dasharray="3.0 0.4 3.0 0.6 3.6 0.4 3.6 0.4 1.8 0.5 2.4 0.5 2.4 0.6 2.4 0.5 1.2 0.5 3.6 0.5"/>
<rect x="920.20" y="262.78" width="6.00" height="0.95" fill="#97a2b1" />
<rect x="956.40" y="262.78" width="4.00" height="0.95" fill="#97a2b1" />
<line x1="858.60" y1="266.05" x2="883.60" y2="266.05" stroke="#97a2b1" stroke-width="0.95" stroke-dasharray="2.4 0.6 1.8 0.5 3.0 0.4 1.2 0.5 1.8 0.5 1.2 0.4 3.0 0.6 2.4 0.5 1.8 0.4 1.2 0.4 3.6 0.4 3.0 0.4"/>
<rect x="920.20" y="265.57" width="6.00" height="0.95" fill="#97a2b1" />
<rect x="956.40" y="265.57" width="3.50" height="0.95" fill="#97a2b1" />
<line x1="858.60" y1="268.85" x2="877.60" y2="268.85" stroke="#97a2b1" stroke-width="0.95" stroke-dasharray="1.8 0.5 2.4 0.4 3.6 0.4 1.2 0.4 3.0 0.5 1.8 0.5 1.8 0.4 3.0 0.5 1.2 0.6"/>
<rect x="920.20" y="268.37" width="8.00" height="0.95" fill="#97a2b1" />
<rect x="956.40" y="268.37" width="4.00" height="0.95" fill="#97a2b1" />
<line x1="858.60" y1="271.64" x2="883.60" y2="271.64" stroke="#97a2b1" stroke-width="0.95" stroke-dasharray="1.8 0.6 3.0 0.6 1.8 0.5 1.8 0.6 1.8 0.4 3.0 0.6 1.8 0.5 2.4 0.4 1.8 0.4 1.8 0.4 3.6 0.6"/>
<rect x="920.20" y="271.17" width="3.00" height="0.95" fill="#97a2b1" />
<rect x="956.40" y="271.17" width="4.00" height="0.95" fill="#97a2b1" />
<line x1="858.60" y1="274.44" x2="865.60" y2="274.44" stroke="#97a2b1" stroke-width="0.95" stroke-dasharray="1.2 0.5 3.6 0.5 3.6 0.6 2.4 0.6"/>
<rect x="920.20" y="273.96" width="8.00" height="0.95" fill="#97a2b1" />
<rect x="956.40" y="273.96" width="16.00" height="0.95" fill="#97a2b1" />
<line x1="858.60" y1="277.23" x2="883.60" y2="277.23" stroke="#97a2b1" stroke-width="0.95" stroke-dasharray="3.0 0.5 2.4 0.5 3.6 0.5 1.8 0.4 1.2 0.6 3.0 0.5 1.8 0.5 3.6 0.5 1.8 0.5 3.0 0.4"/>
<rect x="920.20" y="276.75" width="5.00" height="0.95" fill="#97a2b1" />
<rect x="956.40" y="276.75" width="4.50" height="0.95" fill="#97a2b1" />
<line x1="858.60" y1="280.03" x2="867.60" y2="280.03" stroke="#97a2b1" stroke-width="0.95" stroke-dasharray="3.0 0.5 1.2 0.5 3.6 0.6 1.2 0.4 1.8 0.4"/>
<rect x="920.20" y="279.55" width="4.00" height="0.95" fill="#97a2b1" />
<rect x="956.40" y="279.55" width="5.00" height="0.95" fill="#97a2b1" />
<line x1="858.60" y1="282.82" x2="877.60" y2="282.82" stroke="#97a2b1" stroke-width="0.95" stroke-dasharray="1.2 0.6 3.0 0.6 1.8 0.4 1.2 0.6 1.2 0.4 1.8 0.5 2.4 0.4 1.8 0.4 2.4 0.6 2.4 0.4"/>
<rect x="920.20" y="282.35" width="10.00" height="0.95" fill="#97a2b1" />
<rect x="956.40" y="282.35" width="4.00" height="0.95" fill="#97a2b1" />
<line x1="858.60" y1="285.62" x2="877.60" y2="285.62" stroke="#97a2b1" stroke-width="0.95" stroke-dasharray="3.0 0.4 2.4 0.6 3.0 0.4 3.6 0.5 3.6 0.6 1.8 0.5 2.4 0.4"/>
<rect x="920.20" y="285.14" width="7.00" height="0.95" fill="#97a2b1" />
<rect x="956.40" y="285.14" width="5.00" height="0.95" fill="#97a2b1" />
<line x1="858.60" y1="288.41" x2="872.60" y2="288.41" stroke="#97a2b1" stroke-width="0.95" stroke-dasharray="1.8 0.6 2.4 0.6 2.4 0.5 1.8 0.5 1.2 0.6 1.2 0.6 2.4 0.5 3.6 0.6"/>
<rect x="920.20" y="287.94" width="4.00" height="0.95" fill="#97a2b1" />
<rect x="956.40" y="287.94" width="5.00" height="0.95" fill="#97a2b1" />
<line x1="858.60" y1="291.21" x2="867.60" y2="291.21" stroke="#97a2b1" stroke-width="0.95" stroke-dasharray="3.0 0.6 2.4 0.5 3.0 0.5 3.6 0.4"/>
<rect x="920.20" y="290.73" width="5.00" height="0.95" fill="#97a2b1" />
<rect x="956.40" y="290.73" width="21.00" height="0.95" fill="#97a2b1" />
<line x1="858.60" y1="294.00" x2="877.60" y2="294.00" stroke="#97a2b1" stroke-width="0.95" stroke-dasharray="3.0 0.4 1.8 0.6 1.2 0.5 3.6 0.5 2.4 0.6 3.6 0.6 2.4 0.6 1.2 0.6"/>
<rect x="920.20" y="293.52" width="5.00" height="0.95" fill="#97a2b1" />
<rect x="956.40" y="293.52" width="4.00" height="0.95" fill="#97a2b1" />
<line x1="858.60" y1="296.80" x2="865.60" y2="296.80" stroke="#97a2b1" stroke-width="0.95" stroke-dasharray="2.4 0.6 3.0 0.5 3.6 0.5 1.2 0.4"/>
<rect x="920.20" y="296.32" width="4.00" height="0.95" fill="#97a2b1" />
<rect x="956.40" y="296.32" width="4.00" height="0.95" fill="#97a2b1" />
<line x1="858.60" y1="299.59" x2="884.60" y2="299.59" stroke="#97a2b1" stroke-width="0.95" stroke-dasharray="1.2 0.4 1.2 0.6 2.4 0.5 1.2 0.6 2.4 0.6 1.8 0.5 3.6 0.5 3.6 0.4 1.8 0.5 3.6 0.5 1.8 0.4 1.2 0.4"/>
<rect x="920.20" y="299.12" width="4.00" height="0.95" fill="#97a2b1" />
<rect x="956.40" y="299.12" width="3.50" height="0.95" fill="#97a2b1" />
<line x1="858.60" y1="302.38" x2="870.60" y2="302.38" stroke="#97a2b1" stroke-width="0.95" stroke-dasharray="1.2 0.6 1.8 0.6 2.4 0.5 2.4 0.4 1.2 0.6 3.6 0.5 3.6 0.6"/>
<rect x="920.20" y="301.91" width="6.00" height="0.95" fill="#97a2b1" />
<rect x="956.40" y="301.91" width="4.00" height="0.95" fill="#97a2b1" />
<line x1="858.60" y1="305.18" x2="884.60" y2="305.18" stroke="#97a2b1" stroke-width="0.95" stroke-dasharray="1.8 0.4 1.2 0.4 1.2 0.6 1.2 0.5 1.8 0.4 1.8 0.4 1.2 0.4 3.6 0.6 1.8 0.4 3.0 0.4 3.6 0.6 3.6 0.6"/>
<rect x="920.20" y="304.70" width="7.00" height="0.95" fill="#97a2b1" />
<rect x="956.40" y="304.70" width="6.00" height="0.95" fill="#97a2b1" />
<line x1="858.60" y1="307.98" x2="883.60" y2="307.98" stroke="#97a2b1" stroke-width="0.95" stroke-dasharray="1.8 0.6 2.4 0.4 2.4 0.6 1.2 0.6 3.0 0.6 3.6 0.4 3.0 0.5 3.0 0.4 3.0 0.4 1.8 0.4"/>
<rect x="920.20" y="307.50" width="10.00" height="0.95" fill="#97a2b1" />
<rect x="956.40" y="307.50" width="21.00" height="0.95" fill="#97a2b1" />
<line x1="858.60" y1="310.77" x2="876.60" y2="310.77" stroke="#97a2b1" stroke-width="0.95" stroke-dasharray="1.2 0.5 2.4 0.6 1.2 0.5 3.6 0.6 3.0 0.6 3.6 0.5 2.4 0.6 1.8 0.4"/>
<rect x="920.20" y="310.30" width="4.00" height="0.95" fill="#97a2b1" />
<rect x="956.40" y="310.30" width="3.50" height="0.95" fill="#97a2b1" />
<line x1="858.60" y1="313.57" x2="884.60" y2="313.57" stroke="#97a2b1" stroke-width="0.95" stroke-dasharray="2.4 0.4 1.8 0.4 2.4 0.4 3.0 0.5 3.6 0.4 3.0 0.6 3.6 0.5 3.0 0.6 1.2 0.4 3.0 0.6"/>
<rect x="920.20" y="313.09" width="3.00" height="0.95" fill="#97a2b1" />
<rect x="956.40" y="313.09" width="4.00" height="0.95" fill="#97a2b1" />
<line x1="858.60" y1="316.36" x2="872.60" y2="316.36" stroke="#97a2b1" stroke-width="0.95" stroke-dasharray="1.8 0.5 3.6 0.6 1.2 0.6 1.8 0.4 1.2 0.4 1.2 0.4 3.6 0.4 2.4 0.4"/>
<rect x="920.20" y="315.88" width="7.00" height="0.95" fill="#97a2b1" />
<rect x="956.40" y="315.88" width="5.00" height="0.95" fill="#97a2b1" />
<line x1="858.60" y1="319.16" x2="865.60" y2="319.16" stroke="#97a2b1" stroke-width="0.95" stroke-dasharray="1.8 0.6 1.2 0.6 1.2 0.6 1.2 0.4 3.6 0.5"/>
<rect x="920.20" y="318.68" width="3.00" height="0.95" fill="#97a2b1" />
<rect x="956.40" y="318.68" width="3.50" height="0.95" fill="#97a2b1" />
<line x1="858.60" y1="321.95" x2="872.60" y2="321.95" stroke="#97a2b1" stroke-width="0.95" stroke-dasharray="3.0 0.4 1.8 0.4 1.8 0.4 1.2 0.4 1.2 0.6 2.4 0.5 1.2 0.4 1.2 0.6 1.8 0.5"/>
<rect x="920.20" y="321.48" width="10.00" height="0.95" fill="#97a2b1" />
<rect x="956.40" y="321.48" width="4.00" height="0.95" fill="#97a2b1" />
<line x1="858.60" y1="324.75" x2="877.60" y2="324.75" stroke="#97a2b1" stroke-width="0.95" stroke-dasharray="2.4 0.4 2.4 0.5 2.4 0.4 2.4 0.5 3.6 0.6 3.0 0.5 3.6 0.6"/>
<rect x="920.20" y="324.27" width="5.00" height="0.95" fill="#97a2b1" />
<rect x="956.40" y="324.27" width="16.00" height="0.95" fill="#97a2b1" />
<line x1="858.60" y1="327.54" x2="865.60" y2="327.54" stroke="#97a2b1" stroke-width="0.95" stroke-dasharray="1.2 0.5 3.6 0.4 2.4 0.5 1.2 0.6 3.6 0.4"/>
<rect x="920.20" y="327.06" width="10.00" height="0.95" fill="#97a2b1" />
<rect x="956.40" y="327.06" width="5.00" height="0.95" fill="#97a2b1" />
<line x1="858.60" y1="330.34" x2="867.60" y2="330.34" stroke="#97a2b1" stroke-width="0.95" stroke-dasharray="1.8 0.5 1.2 0.6 1.8 0.5 1.2 0.4 2.4 0.5 1.2 0.5 1.8 0.5"/>
<rect x="920.20" y="329.86" width="7.00" height="0.95" fill="#97a2b1" />
<rect x="956.40" y="329.86" width="5.00" height="0.95" fill="#97a2b1" />
<line x1="858.60" y1="333.13" x2="877.60" y2="333.13" stroke="#97a2b1" stroke-width="0.95" stroke-dasharray="3.6 0.4 2.4 0.4 1.8 0.5 1.8 0.4 1.2 0.5 3.6 0.4 2.4 0.5 1.2 0.5 3.0 0.6"/>
<rect x="920.20" y="332.65" width="10.00" height="0.95" fill="#97a2b1" />
<rect x="956.40" y="332.65" width="5.00" height="0.95" fill="#97a2b1" />
<line x1="858.60" y1="335.93" x2="867.60" y2="335.93" stroke="#97a2b1" stroke-width="0.95" stroke-dasharray="2.4 0.4 2.4 0.5 3.0 0.6 3.6 0.4"/>
<rect x="920.20" y="335.45" width="6.00" height="0.95" fill="#97a2b1" />
<rect x="956.40" y="335.45" width="3.50" height="0.95" fill="#97a2b1" />
<line x1="858.60" y1="338.72" x2="883.60" y2="338.72" stroke="#97a2b1" stroke-width="0.95" stroke-dasharray="3.0 0.4 3.6 0.6 3.6 0.6 1.2 0.5 3.6 0.5 3.6 0.4 3.0 0.6 3.6 0.6"/>
<rect x="920.20" y="338.25" width="8.00" height="0.95" fill="#97a2b1" />
<rect x="956.40" y="338.25" width="4.50" height="0.95" fill="#97a2b1" />
<line x1="858.60" y1="341.52" x2="877.60" y2="341.52" stroke="#97a2b1" stroke-width="0.95" stroke-dasharray="3.0 0.6 2.4 0.6 1.8 0.4 2.4 0.5 1.8 0.6 1.8 0.5 2.4 0.6 3.6 0.4"/>
<rect x="920.20" y="341.04" width="4.00" height="0.95" fill="#97a2b1" />
<rect x="956.40" y="341.04" width="16.00" height="0.95" fill="#97a2b1" />
<line x1="858.60" y1="344.31" x2="870.60" y2="344.31" stroke="#97a2b1" stroke-width="0.95" stroke-dasharray="3.6 0.6 2.4 0.4 1.8 0.5 1.8 0.5 1.2 0.4 1.2 0.4 3.0 0.4"/>
<rect x="920.20" y="343.84" width="4.00" height="0.95" fill="#97a2b1" />
<rect x="956.40" y="343.84" width="5.00" height="0.95" fill="#97a2b1" />
</g>
<rect x="918.60" y="218.00" width="0.50" height="129.40" fill="#d4dde8" />
<rect x="954.60" y="218.00" width="0.50" height="129.40" fill="#d4dde8" />
<rect x="857.10" y="198.70" width="1.00" height="148.70" fill="#2a2f45" />
<rect x="993.30" y="198.70" width="1.00" height="148.70" fill="#3a4050" />
<rect x="857.40" y="346.60" width="136.80" height="0.90" fill="#4a505e" />
<rect x="816.40" y="410.20" width="176.40" height="100.50" fill="rgba(40,50,70,0.40)" filter="url(#sh)"/>
<rect x="815.40" y="407.20" width="177.40" height="100.50" fill="#fcfcfe" stroke="#5a5f69" stroke-width="0.9"/>
<rect x="815.20" y="407.50" width="1.70" height="99.90" fill="#e7b722" />
<g clip-path="url(#c3)">
<rect x="828.70" y="422.40" width="3.40" height="2.60" fill="#e9b824" />
<rect x="832.80" y="422.80" width="24.00" height="1.80" fill="#4a4a4a" filter="url(#bl)"/>
<rect x="862.50" y="421.60" width="7.00" height="1.00" fill="#8a8f99" filter="url(#bl)"/>
<rect x="862.50" y="424.00" width="11.50" height="1.00" fill="#8a8f99" filter="url(#bl)"/>
<path d="M942.5 437 A25.6 25.6 0 0 1 942.5 488.2 Z" fill="#f5b21a"/>
<rect x="919.60" y="426.20" width="22.90" height="67.00" fill="#ededee" stroke="#cfd2d6" stroke-width="0.5"/>
<rect x="931.50" y="426.20" width="11.00" height="7.60" fill="#e2e3e6" stroke="#b9bdc3" stroke-width="0.5"/>
<rect x="922.00" y="441.00" width="20.50" height="0.50" fill="#cdd0d5" />
<rect x="922.00" y="447.50" width="20.50" height="0.50" fill="#cdd0d5" />
<rect x="922.00" y="454.00" width="20.50" height="0.50" fill="#cdd0d5" />
<rect x="922.00" y="460.50" width="20.50" height="0.50" fill="#cdd0d5" />
<rect x="922.00" y="467.00" width="20.50" height="0.50" fill="#cdd0d5" />
<rect x="922.00" y="473.50" width="20.50" height="0.50" fill="#cdd0d5" />
<rect x="922.00" y="480.00" width="20.50" height="0.50" fill="#cdd0d5" />
<rect x="922.00" y="486.50" width="20.50" height="0.50" fill="#cdd0d5" />
<rect x="920.60" y="434.00" width="3.20" height="16.00" fill="#b9bcc2" />
<rect x="917.50" y="424.20" width="12.80" height="9.60" fill="#f5821f" />
<circle cx="928" cy="470.8" r="6.2" fill="#f5b21a"/>
<rect x="906.00" y="466.00" width="12.50" height="17.50" fill="#e9eaec" />
<g fill="none" stroke="#5b5d60" stroke-linecap="round" stroke-linejoin="round"><path d="M908.6 465.5 L908.4 456.8 L913.5 453.5 L926.5 456.6" stroke-width="3.2"/><path d="M926.5 457.2 L922.2 470.5 L919.6 480.2" stroke-width="3.4"/><path d="M916 483.6 L924 483.6" stroke-width="2.6"/></g>
<circle cx="926.6" cy="457" r="2.6" fill="#6d6f72"/>
<circle cx="908.6" cy="457.4" r="2.2" fill="#737578"/>
<rect x="931.20" y="486.00" width="10.30" height="6.40" fill="#3a3b3d" />
<rect x="924.00" y="484.50" width="7.50" height="8.50" fill="#dcdde0" />
<path d="M942.5 449.6 C947 448.6 952 448.6 956.5 450.6 L964.8 455.4 C973 456.4 981.5 458.8 986 462.2 C988.8 464.6 989 468.6 987.4 471.4 L983.5 474.2 L960 473.8 L942.5 471.4 Z" fill="#5c5b57"/>
<path d="M943 451 C947 450 952 450.2 955.6 452 L960.6 455.6 L943 455.4 Z" fill="#3f4143"/>
<path d="M942.5 462.4 L966 463.6 L987.6 467 L987 471.6 L983.5 474.2 L960 473.8 L942.5 471.4Z" fill="#4b4a47"/>
<circle cx="971.4" cy="470.2" r="6.6" fill="#2c2c2d"/>
<circle cx="971.4" cy="470.2" r="4.3" fill="#b9bbbf"/>
<circle cx="971.4" cy="470.2" r="1.5" fill="#55575a"/>
<path d="M973.2 441 C978 441.6 981.2 444.6 982.2 449.2 L973.2 449.2 Z" fill="#8f95ea"/>
<rect x="948.60" y="488.00" width="0.40" height="14.00" fill="#d9dbe0" />
<rect x="860.00" y="466.50" width="46.00" height="0.40" fill="#e6e8ec" />
<rect x="830.20" y="466.40" width="17.20" height="2.60" fill="#b4b8bf" filter="url(#bl)"/>
<rect x="830.20" y="494.60" width="32.00" height="1.20" fill="#a9aeb6" filter="url(#bl)"/>
<rect x="867.40" y="494.60" width="20.50" height="1.20" fill="#bcc0c7" filter="url(#bl)"/>
</g>
</svg>
<svg width="1024" height="576" viewBox="0 0 1024 576" style="font-family:'Liberation Sans',sans-serif;text-rendering:geometricPrecision"><defs><filter id="tb" x="0" y="0" width="1024" height="576" filterUnits="userSpaceOnUse"><feGaussianBlur stdDeviation="0.28"/></filter></defs>
<g filter="url(#tb)">
<text transform="matrix(1.1602 0 0 1.0000 31.89 208)" font-size="10.60" fill="#3c3c3c" >2,000</text>
<text transform="matrix(1.0243 0 0 1.0000 35.44 264)" font-size="10.60" fill="#3c3c3c" >1,600</text>
<text transform="matrix(1.0243 0 0 1.0000 35.44 321)" font-size="10.60" fill="#3c3c3c" >1,200</text>
<text transform="matrix(1.0833 0 0 1.0000 43.48 377)" font-size="10.60" fill="#3c3c3c" >800</text>
<text transform="matrix(1.0957 0 0 1.0000 43.27 433)" font-size="10.60" fill="#3c3c3c" >400</text>
<text transform="matrix(1.2677 0 0 1.0000 55.21 489)" font-size="10.60" fill="#3c3c3c" >0</text>
<text transform="matrix(1.2049 0 0 1.0000 31.89 189)" font-size="10.20" fill="#3c3c3c" >'000 units sold</text>
<text transform="matrix(1.1283 0 0 1.0000 74.32 499)" font-size="10.60" fill="#3c3c3c" >Jan-24</text>
<text transform="matrix(1.2220 0 0 1.0000 155.46 499)" font-size="10.60" fill="#3c3c3c" >Mar-</text>
<text transform="matrix(1.1541 0 0 1.0000 162.59 511)" font-size="10.60" fill="#3c3c3c" >24</text>
<text transform="matrix(1.1321 0 0 1.0000 232.04 499)" font-size="10.60" fill="#3c3c3c" >May-</text>
<text transform="matrix(1.1541 0 0 1.0000 239.29 511)" font-size="10.60" fill="#3c3c3c" >24</text>
<text transform="matrix(1.1968 0 0 1.0000 305.31 499)" font-size="10.60" fill="#3c3c3c" >Jul-24</text>
<text transform="matrix(1.1181 0 0 1.0000 386.97 499)" font-size="10.60" fill="#3c3c3c" >Sep-</text>
<text transform="matrix(1.1541 0 0 1.0000 392.69 511)" font-size="10.60" fill="#3c3c3c" >24</text>
<text transform="matrix(1.1852 0 0 1.0000 462.49 499)" font-size="10.60" fill="#3c3c3c" >Nov-</text>
<text transform="matrix(1.1541 0 0 1.0000 469.39 511)" font-size="10.60" fill="#3c3c3c" >24</text>
<text transform="matrix(1.1006 0 0 1.0000 535.33 499)" font-size="10.60" fill="#3c3c3c" >Jan-25</text>
<text transform="matrix(1.1153 0 0 1.0000 611.05 499)" font-size="10.60" fill="#3c3c3c" >Mar-25</text>
<text transform="matrix(1.0894 0 0 1.0000 692.83 499)" font-size="10.60" fill="#3c3c3c" >May-</text>
<text transform="matrix(1.1654 0 0 1.0000 699.68 511)" font-size="10.60" fill="#3c3c3c" >25</text>
<text transform="matrix(1.1399 0 0 1.0000 727.32 499)" font-size="10.60" fill="#3c3c3c" >Jun-25</text>
<text transform="matrix(1.1807 0 0 1.0000 54.93 55)" font-size="12.60" fill="#141414" font-weight="bold" stroke="#141414" stroke-width="0.25">BENCHMARK</text>
<text transform="matrix(1.2155 0 0 1.0800 176.21 49)" font-size="13.20" fill="#282a33" stroke="#282a33" stroke-width="0.2">rho</text>
<text transform="matrix(1.2340 0 0 1.0000 176.19 60)" font-size="13.20" fill="#282a33" stroke="#282a33" stroke-width="0.2">motion</text>
<text transform="matrix(1.0647 0 0 1.0000 30.13 102)" font-size="12.60" fill="#ffefc6" font-weight="bold" >H1 2025</text>
<text transform="matrix(1.1480 0 0 1.0000 31.63 117)" font-size="12.60" fill="#ffefc6" font-weight="bold" >update</text>
<text transform="matrix(1.1125 0 0 1.0000 100.44 96)" font-size="17.50" fill="#3a3a3a" >H1 2025 EV Sales:</text>
<text transform="matrix(1.1764 0 0 1.0000 100.59 150)" font-size="48.90" fill="#111" font-weight="bold" >9</text>
<text transform="matrix(1.1001 0 0 1.0000 132.00 150)" font-size="48.90" fill="#111" font-weight="bold" >.</text>
<text transform="matrix(1.1709 0 0 1.1000 181.28 150)" font-size="48.90" fill="#111" font-weight="bold" >m</text>
<text transform="matrix(1.0809 0 0 1.1000 233.10 150)" font-size="48.90" fill="#111" font-weight="bold" >i</text>
<text transform="matrix(0.9641 0 0 1.0850 249.60 150)" font-size="48.90" fill="#111" font-weight="bold" >l</text>
<text transform="matrix(0.9641 0 0 1.0850 264.10 150)" font-size="48.90" fill="#111" font-weight="bold" >l</text>
<text transform="matrix(1.0809 0 0 1.1000 278.30 150)" font-size="48.90" fill="#111" font-weight="bold" >i</text>
<text transform="matrix(1.1305 0 0 1.1000 293.49 150)" font-size="48.90" fill="#111" font-weight="bold" >o</text>
<text transform="matrix(1.1216 0 0 1.1000 327.44 150)" font-size="48.90" fill="#111" font-weight="bold" >n</text>
<path d="M148.6 115.2 H160.5 V150 H153.6 V121.2 H148.6 Z" fill="#111"/>
<text transform="matrix(1.0106 0 0 1.0000 544.47 109)" font-size="21.00" fill="#333" >YTD %</text>
<text transform="matrix(1.1216 0 0 1.0000 642.84 114)" font-size="31.40" fill="#141414" font-weight="bold" >+28%</text>
<text transform="matrix(1.0653 0 0 1.0000 481.41 168)" font-size="11.00" fill="#444" >China</text>
<text transform="matrix(1.1217 0 0 1.0000 540.26 168)" font-size="11.00" fill="#444" >Europe</text>
<text transform="matrix(1.1264 0 0 1.0000 607.76 168)" font-size="11.00" fill="#444" >North America</text>
<text transform="matrix(1.0195 0 0 1.0000 714.60 168)" font-size="11.00" fill="#444" >RoW</text>
<text transform="matrix(1.0925 0 0 1.0000 33.26 542)" font-size="9.00" fill="#444" >Copyright Rho Motion 2025, sharing or reproduction is not permitted without permission</text>
<text transform="matrix(0.9943 0 0 1.0000 544.33 541)" font-size="11.50" fill="#444" >*Including BEV &amp; PHEV PC &amp; LDV sales</text>
<text transform="matrix(1.0965 0 0 1.0000 812.01 84)" font-size="12.50" fill="#15171c" font-weight="bold" >Monthly Assessments &amp;</text>
<text transform="matrix(1.1489 0 0 1.0000 811.97 100)" font-size="12.50" fill="#15171c" font-weight="bold" >Database</text>
<text transform="matrix(1.1151 0 0 1.0000 812.74 388)" font-size="12.50" fill="#15171c" font-weight="bold" >Quarterly Outlooks</text>
<text transform="matrix(1.2127 0 0 1.0000 829.70 135)" font-size="6.40" fill="#23283f" stroke="#23283f" stroke-width="0.2">rho</text>
<text transform="matrix(1.1542 0 0 1.0000 829.72 140)" font-size="6.40" fill="#23283f" stroke="#23283f" stroke-width="0.2">motion</text>
<text transform="matrix(0.9764 0 0 1.0000 854.93 135)" font-size="4.30" fill="#39404c" font-weight="bold" >Monthly Electric Vehicle Battery</text>
<text transform="matrix(0.9605 0 0 1.0000 855.03 140)" font-size="4.30" fill="#39404c" font-weight="bold" >Chemistry Assessment April 2025</text>
<text transform="matrix(1.2023 0 0 1.0000 860.12 207)" font-size="3.60" fill="#23283f" >rho</text>
<text transform="matrix(1.0840 0 0 1.0000 860.15 210)" font-size="3.60" fill="#23283f" >motion</text>
<text transform="matrix(1.0546 0 0 1.0000 829.87 481)" font-size="7.70" fill="#1d1f24" font-weight="bold" >EV &amp; Battery</text>
<text transform="matrix(1.0415 0 0 1.0000 829.88 489)" font-size="7.70" fill="#1d1f24" font-weight="bold" >Forecast</text>
</g></svg>
</body></html>
